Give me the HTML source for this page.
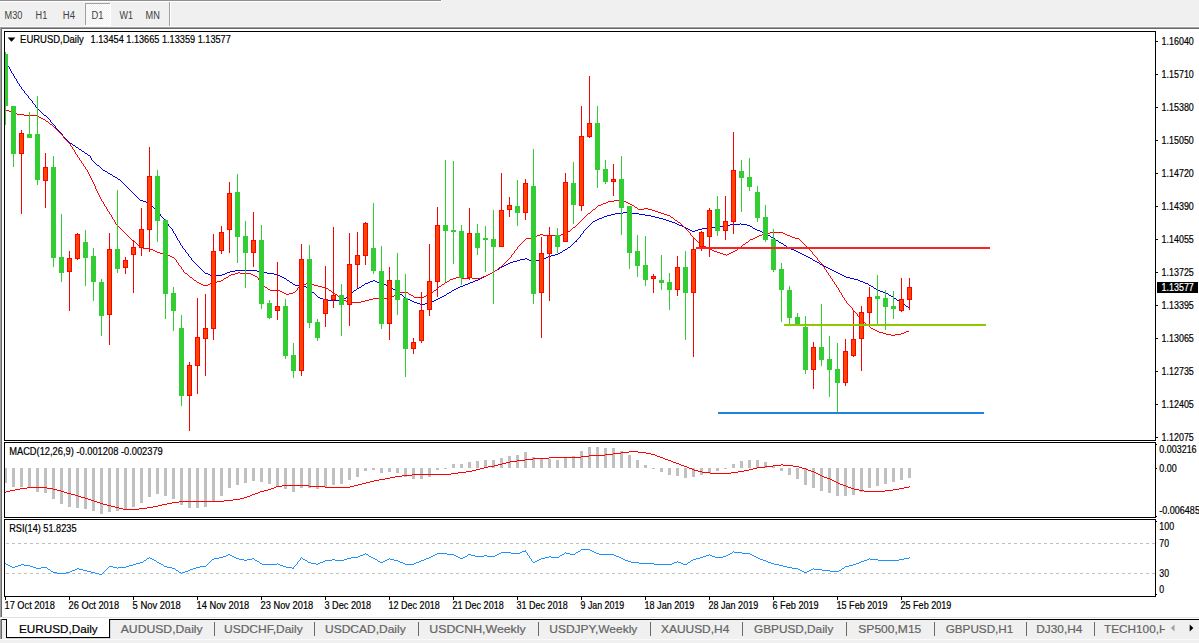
<!DOCTYPE html>
<html><head><meta charset="utf-8"><title>EURUSD,Daily</title>
<style>html,body{margin:0;padding:0;background:#f0f0f0;overflow:hidden}svg{display:block}</style></head>
<body>
<svg width="1199" height="643" viewBox="0 0 1199 643" font-family="Liberation Sans, sans-serif">
<rect x="0" y="0" width="1199" height="643" fill="#f0f0f0"/>
<rect x="0" y="0" width="441" height="1" fill="#909090"/>
<rect x="0" y="1" width="442" height="1" fill="#ffffff"/>
<rect x="441" y="0" width="1" height="1" fill="#ffffff"/>
<defs><pattern id="chk" width="2" height="2" patternUnits="userSpaceOnUse"><rect width="2" height="2" fill="#f0f0f0"/><rect width="1" height="1" fill="#fff"/><rect x="1" y="1" width="1" height="1" fill="#fff"/></pattern></defs>
<rect x="85" y="3" width="26" height="23" fill="url(#chk)"/>
<rect x="85" y="3" width="26" height="1" fill="#a0a0a0"/>
<rect x="85" y="3" width="1" height="23" fill="#a0a0a0"/>
<rect x="85" y="25" width="26" height="1" fill="#fff"/>
<rect x="110" y="3" width="1" height="23" fill="#fff"/>
<text x="4.6" y="19" font-size="10" fill="#404040" textLength="17.8" lengthAdjust="spacingAndGlyphs" >M30</text>
<text x="35.6" y="19" font-size="10" fill="#404040" textLength="11.7" lengthAdjust="spacingAndGlyphs" >H1</text>
<text x="62.8" y="19" font-size="10" fill="#404040" textLength="12.2" lengthAdjust="spacingAndGlyphs" >H4</text>
<text x="91.6" y="19" font-size="10" fill="#404040" textLength="12" lengthAdjust="spacingAndGlyphs" >D1</text>
<text x="119.4" y="19" font-size="10" fill="#404040" textLength="13.5" lengthAdjust="spacingAndGlyphs" >W1</text>
<text x="145.6" y="19" font-size="10" fill="#404040" textLength="14.3" lengthAdjust="spacingAndGlyphs" >MN</text>
<rect x="169" y="2" width="1" height="24" fill="#a0a0a0"/>
<rect x="170" y="2" width="1" height="24" fill="#fff"/>
<rect x="0" y="26" width="1199" height="1" fill="#f7f7f7"/>
<rect x="0" y="27" width="1199" height="1" fill="#a0a0a0"/>
<rect x="1" y="28" width="1198" height="1" fill="#696969"/>
<rect x="0" y="28" width="1" height="589" fill="#a0a0a0"/>
<rect x="1" y="28" width="1" height="589" fill="#696969"/>
<rect x="2" y="29" width="1197" height="588" fill="#ffffff"/>
<rect x="0" y="617" width="1199" height="1" fill="#e3e3e3"/>
<rect x="0" y="618" width="1199" height="1" fill="#ffffff"/>
<rect x="4" y="31" width="1152" height="1" fill="#000"/>
<rect x="4" y="31" width="1" height="410" fill="#000"/>
<rect x="4" y="442" width="1" height="76" fill="#000"/>
<rect x="4" y="519" width="1" height="78" fill="#000"/>
<rect x="1155" y="31" width="1" height="410" fill="#000"/>
<rect x="1155" y="442" width="1" height="76" fill="#000"/>
<rect x="1155" y="519" width="1" height="78" fill="#000"/>
<rect x="4" y="440" width="1152" height="1" fill="#000"/>
<rect x="4" y="442" width="1152" height="1" fill="#000"/>
<rect x="4" y="517" width="1152" height="1" fill="#000"/>
<rect x="4" y="519" width="1152" height="1" fill="#000"/>
<rect x="4" y="596" width="1152" height="1" fill="#000"/>
<clipPath id="cp"><rect x="5" y="32" width="1150" height="408"/></clipPath>
<g clip-path="url(#cp)" shape-rendering="crispEdges">
<path d="M5 61h1v2h-1zM6 63h1v1h-1zM7 64h1v2h-1zM8 66h1v1h-1zM9 67h1v2h-1zM10 69h1v2h-1zM11 71h1v2h-1zM12 73h1v1h-1zM13 74h1v2h-1zM14 76h1v2h-1zM15 78h1v1h-1zM16 79h1v2h-1zM17 81h1v2h-1zM18 83h1v1h-1zM19 84h1v2h-1zM20 86h1v1h-1zM21 87h1v2h-1zM22 89h1v1h-1zM23 90h1v1h-1zM24 91h1v2h-1zM25 93h1v1h-1zM26 94h1v1h-1zM27 95h1v1h-1zM28 96h1v2h-1zM29 98h1v1h-1zM30 99h1v1h-1zM31 100h1v1h-1zM32 101h1v2h-1zM33 103h1v1h-1zM34 104h1v1h-1zM35 105h1v2h-1zM36 107h1v1h-1zM37 108h1v1h-1zM38 109h1v1h-1zM39 110h1v1h-1zM40 111h1v1h-1zM41 112h1v1h-1zM42 113h1v1h-1zM43 114h1v1h-1zM44 115h2v1h-2zM46 116h1v1h-1zM47 117h1v1h-1zM48 118h1v1h-1zM49 119h1v1h-1zM50 120h1v2h-1zM51 122h1v1h-1zM52 123h1v1h-1zM53 124h1v1h-1zM54 125h1v1h-1zM55 126h1v2h-1zM56 128h1v1h-1zM57 129h1v1h-1zM58 130h1v1h-1zM59 131h1v1h-1zM60 132h1v1h-1zM61 133h1v1h-1zM62 134h1v2h-1zM63 136h1v1h-1zM64 137h1v1h-1zM65 138h1v1h-1zM66 139h1v1h-1zM67 140h1v1h-1zM68 141h1v1h-1zM69 142h1v1h-1zM70 143h2v1h-2zM72 144h1v1h-1zM73 145h2v1h-2zM75 146h1v1h-1zM76 147h2v1h-2zM78 148h1v1h-1zM79 149h2v1h-2zM81 150h1v1h-1zM82 151h2v1h-2zM84 152h1v1h-1zM85 153h2v1h-2zM87 154h1v1h-1zM88 155h2v1h-2zM90 156h1v2h-1zM91 158h1v2h-1zM92 160h1v1h-1zM93 161h1v1h-1zM94 162h1v1h-1zM95 163h1v1h-1zM96 164h1v1h-1zM97 165h2v1h-2zM99 166h1v1h-1zM100 167h1v1h-1zM101 168h1v1h-1zM102 169h1v1h-1zM103 170h2v1h-2zM105 171h2v1h-2zM107 172h1v1h-1zM108 173h2v1h-2zM110 174h2v1h-2zM112 175h1v1h-1zM113 176h2v1h-2zM115 177h2v1h-2zM117 178h1v1h-1zM118 179h2v1h-2zM120 180h1v1h-1zM121 181h1v1h-1zM122 182h1v1h-1zM123 183h1v1h-1zM124 184h1v1h-1zM125 185h1v1h-1zM126 186h1v1h-1zM127 187h1v1h-1zM128 188h1v1h-1zM129 189h1v1h-1zM130 190h1v1h-1zM131 191h1v1h-1zM132 192h1v1h-1zM133 193h1v1h-1zM134 194h1v1h-1zM135 195h1v1h-1zM136 196h1v1h-1zM137 197h1v1h-1zM138 198h1v1h-1zM139 199h1v1h-1zM140 200h3v1h-3zM143 201h3v1h-3zM146 202h3v1h-3zM149 203h1v1h-1zM150 204h1v1h-1zM151 205h1v1h-1zM152 206h1v1h-1zM153 207h1v1h-1zM154 208h1v1h-1zM155 209h1v1h-1zM156 210h1v1h-1zM157 211h1v1h-1zM158 212h1v1h-1zM159 213h1v1h-1zM160 214h1v2h-1zM161 216h1v1h-1zM162 217h1v1h-1zM163 218h1v1h-1zM164 219h1v2h-1zM165 221h1v1h-1zM166 222h1v1h-1zM167 223h1v1h-1zM168 224h1v2h-1zM169 226h1v1h-1zM170 227h1v1h-1zM171 228h1v1h-1zM172 229h1v2h-1zM173 231h1v2h-1zM174 233h1v1h-1zM175 234h1v2h-1zM176 236h1v2h-1zM177 238h1v2h-1zM178 240h1v1h-1zM179 241h1v2h-1zM180 243h1v2h-1zM181 245h1v1h-1zM182 246h1v2h-1zM183 248h1v1h-1zM184 249h1v1h-1zM185 250h1v2h-1zM186 252h1v1h-1zM187 253h1v1h-1zM188 254h1v2h-1zM189 256h1v1h-1zM190 257h1v1h-1zM191 258h1v2h-1zM192 260h1v1h-1zM193 261h1v1h-1zM194 262h1v1h-1zM195 263h1v1h-1zM196 264h1v1h-1zM197 265h1v1h-1zM198 266h1v1h-1zM199 267h1v1h-1zM200 268h1v1h-1zM201 269h1v1h-1zM202 270h1v1h-1zM203 271h1v1h-1zM204 272h1v1h-1zM205 273h3v1h-3zM208 274h2v1h-2zM210 275h12v1h-12zM222 274h3v1h-3zM225 273h2v1h-2zM227 272h3v1h-3zM230 271h5v1h-5zM235 270h22v1h-22zM257 271h5v1h-5zM262 272h5v1h-5zM267 273h7v1h-7zM274 274h4v1h-4zM278 275h2v1h-2zM280 276h2v1h-2zM282 277h2v1h-2zM284 278h2v1h-2zM286 279h1v1h-1zM287 280h2v1h-2zM289 281h1v1h-1zM290 282h2v1h-2zM292 283h1v1h-1zM293 284h2v1h-2zM295 285h9v1h-9zM304 286h2v1h-2zM306 287h1v1h-1zM307 288h1v1h-1zM308 289h2v1h-2zM310 290h1v1h-1zM311 291h1v1h-1zM312 292h2v1h-2zM314 293h1v1h-1zM315 294h1v1h-1zM316 295h1v1h-1zM317 296h1v1h-1zM318 297h2v1h-2zM320 298h3v1h-3zM323 299h2v1h-2zM325 300h17v1h-17zM342 299h2v1h-2zM344 298h2v1h-2zM346 297h2v1h-2zM348 296h1v1h-1zM349 295h1v1h-1zM350 294h1v1h-1zM351 293h1v1h-1zM352 292h1v1h-1zM353 291h1v1h-1zM354 290h2v1h-2zM356 289h1v1h-1zM357 288h2v1h-2zM359 287h2v1h-2zM361 286h1v1h-1zM362 285h2v1h-2zM364 284h1v1h-1zM365 283h3v1h-3zM368 282h2v1h-2zM370 281h3v1h-3zM373 280h2v1h-2zM375 281h2v1h-2zM377 282h3v1h-3zM380 283h3v1h-3zM383 284h3v1h-3zM386 285h3v1h-3zM389 286h1v1h-1zM390 287h2v1h-2zM392 288h1v1h-1zM393 289h2v1h-2zM395 290h1v1h-1zM396 291h2v1h-2zM398 292h1v1h-1zM399 293h1v1h-1zM400 294h2v1h-2zM402 295h1v1h-1zM403 296h1v1h-1zM404 297h2v1h-2zM406 298h2v1h-2zM408 299h2v1h-2zM410 300h2v1h-2zM412 301h2v1h-2zM414 302h3v1h-3zM417 303h3v1h-3zM420 304h5v1h-5zM425 303h4v1h-4zM429 302h3v1h-3zM432 301h2v1h-2zM434 300h2v1h-2zM436 299h2v1h-2zM438 298h2v1h-2zM440 297h2v1h-2zM442 296h2v1h-2zM444 295h2v1h-2zM446 294h1v1h-1zM447 293h2v1h-2zM449 292h2v1h-2zM451 291h1v1h-1zM452 290h2v1h-2zM454 289h2v1h-2zM456 288h2v1h-2zM458 287h2v1h-2zM460 286h3v1h-3zM463 285h2v1h-2zM465 284h3v1h-3zM468 283h2v1h-2zM470 282h3v1h-3zM473 281h2v1h-2zM475 280h3v1h-3zM478 279h2v1h-2zM480 278h2v1h-2zM482 277h2v1h-2zM484 276h2v1h-2zM486 275h2v1h-2zM488 274h2v1h-2zM490 273h2v1h-2zM492 272h2v1h-2zM494 271h1v1h-1zM495 270h2v1h-2zM497 269h2v1h-2zM499 268h1v1h-1zM500 267h2v1h-2zM502 266h2v1h-2zM504 265h2v1h-2zM506 264h2v1h-2zM508 263h2v1h-2zM510 262h3v1h-3zM513 261h4v1h-4zM517 260h3v1h-3zM520 259h5v1h-5zM525 258h2v1h-2zM527 259h2v1h-2zM529 260h2v1h-2zM531 261h5v1h-5zM536 260h4v1h-4zM540 259h3v1h-3zM543 258h3v1h-3zM546 257h2v1h-2zM548 256h3v1h-3zM551 255h4v1h-4zM555 254h3v1h-3zM558 253h2v1h-2zM560 252h2v1h-2zM562 251h1v1h-1zM563 250h2v1h-2zM565 249h2v1h-2zM567 248h1v1h-1zM568 247h2v1h-2zM570 246h1v1h-1zM571 245h1v1h-1zM572 244h1v1h-1zM573 243h1v1h-1zM574 242h1v1h-1zM575 241h1v1h-1zM576 240h1v2h-1zM577 239h1v1h-1zM578 238h1v1h-1zM579 237h1v1h-1zM580 235h1v2h-1zM581 234h1v1h-1zM582 233h1v1h-1zM583 231h1v2h-1zM584 230h1v1h-1zM585 229h1v1h-1zM586 228h1v1h-1zM587 227h1v1h-1zM588 226h1v1h-1zM589 225h1v1h-1zM590 224h1v1h-1zM591 223h1v1h-1zM592 222h1v1h-1zM593 221h2v1h-2zM595 220h2v1h-2zM597 219h2v1h-2zM599 218h3v1h-3zM602 217h2v1h-2zM604 216h3v1h-3zM607 215h4v1h-4zM611 214h4v1h-4zM615 213h8v1h-8zM623 212h8v1h-8zM631 213h8v1h-8zM639 214h6v1h-6zM645 215h6v1h-6zM651 216h4v1h-4zM655 217h4v1h-4zM659 218h4v1h-4zM663 219h3v1h-3zM666 220h3v1h-3zM669 221h3v1h-3zM672 222h3v1h-3zM675 223h2v1h-2zM677 224h2v1h-2zM679 225h3v1h-3zM682 226h2v1h-2zM684 227h2v1h-2zM686 228h2v1h-2zM688 229h2v1h-2zM690 230h2v1h-2zM692 231h3v1h-3zM695 230h3v1h-3zM698 229h4v1h-4zM702 228h6v1h-6zM708 227h11v1h-11zM719 226h6v1h-6zM725 225h5v1h-5zM730 224h10v1h-10zM740 223h1v1h-1zM741 224h6v1h-6zM747 225h3v1h-3zM750 226h2v1h-2zM752 227h1v1h-1zM753 228h2v1h-2zM755 229h2v1h-2zM757 230h3v1h-3zM760 231h2v1h-2zM762 232h3v1h-3zM765 233h2v1h-2zM767 234h1v1h-1zM768 235h2v1h-2zM770 236h1v1h-1zM771 237h2v1h-2zM773 238h2v1h-2zM775 239h1v1h-1zM776 240h2v1h-2zM778 241h1v1h-1zM779 242h2v1h-2zM781 243h2v1h-2zM783 244h1v1h-1zM784 245h2v1h-2zM786 246h1v1h-1zM787 247h2v1h-2zM789 248h2v1h-2zM791 249h3v1h-3zM794 250h2v1h-2zM796 251h2v1h-2zM798 252h2v1h-2zM800 253h2v1h-2zM802 254h2v1h-2zM804 255h2v1h-2zM806 256h2v1h-2zM808 257h2v1h-2zM810 258h2v1h-2zM812 259h1v1h-1zM813 260h2v1h-2zM815 261h2v1h-2zM817 262h2v1h-2zM819 263h1v1h-1zM820 264h2v1h-2zM822 265h2v1h-2zM824 266h2v1h-2zM826 267h2v1h-2zM828 268h2v1h-2zM830 269h2v1h-2zM832 270h2v1h-2zM834 271h2v1h-2zM836 272h2v1h-2zM838 273h2v1h-2zM840 274h2v1h-2zM842 275h2v1h-2zM844 276h2v1h-2zM846 277h4v1h-4zM850 278h4v1h-4zM854 279h4v1h-4zM858 280h2v1h-2zM860 281h3v1h-3zM863 282h2v1h-2zM865 283h3v1h-3zM868 284h1v1h-1zM869 285h2v1h-2zM871 286h2v1h-2zM873 287h1v1h-1zM874 288h2v1h-2zM876 289h2v1h-2zM878 290h2v1h-2zM880 291h3v1h-3zM883 292h2v1h-2zM885 293h3v1h-3zM888 294h1v1h-1zM889 295h2v1h-2zM891 296h2v1h-2zM893 297h1v1h-1zM894 298h2v1h-2zM896 299h1v1h-1zM897 300h2v1h-2zM899 301h1v1h-1zM900 302h2v1h-2zM902 303h1v1h-1zM903 304h2v1h-2zM905 305h1v1h-1zM906 306h2v1h-2zM908 307h1v1h-1z" fill="#0000e6" />
<path d="M5 109h1v1h-1zM6 110h3v1h-3zM9 111h2v1h-2zM11 112h3v1h-3zM14 113h3v1h-3zM17 114h7v1h-7zM24 115h13v1h-13zM37 116h2v1h-2zM39 117h2v1h-2zM41 118h2v1h-2zM43 119h2v1h-2zM45 120h1v1h-1zM46 121h2v1h-2zM48 122h1v1h-1zM49 123h1v1h-1zM50 124h2v1h-2zM52 125h1v1h-1zM53 126h1v1h-1zM54 127h1v1h-1zM55 128h1v1h-1zM56 129h1v1h-1zM57 130h1v1h-1zM58 131h1v1h-1zM59 132h1v1h-1zM60 133h1v1h-1zM61 134h1v1h-1zM62 135h1v1h-1zM63 136h1v2h-1zM64 138h1v1h-1zM65 139h1v1h-1zM66 140h1v1h-1zM67 141h1v1h-1zM68 142h1v1h-1zM69 143h1v1h-1zM70 144h1v2h-1zM71 146h1v1h-1zM72 147h1v2h-1zM73 149h1v1h-1zM74 150h1v2h-1zM75 152h1v2h-1zM76 154h1v1h-1zM77 155h1v2h-1zM78 157h1v1h-1zM79 158h1v2h-1zM80 160h1v1h-1zM81 161h1v2h-1zM82 163h1v1h-1zM83 164h1v2h-1zM84 166h1v1h-1zM85 167h1v2h-1zM86 169h1v1h-1zM87 170h1v2h-1zM88 172h1v2h-1zM89 174h1v2h-1zM90 176h1v2h-1zM91 178h1v2h-1zM92 180h1v2h-1zM93 182h1v2h-1zM94 184h1v2h-1zM95 186h1v3h-1zM96 189h1v2h-1zM97 191h1v2h-1zM98 193h1v2h-1zM99 195h1v2h-1zM100 197h1v2h-1zM101 199h1v2h-1zM102 201h1v1h-1zM103 202h1v2h-1zM104 204h1v2h-1zM105 206h1v1h-1zM106 207h1v2h-1zM107 209h1v2h-1zM108 211h1v1h-1zM109 212h1v2h-1zM110 214h1v1h-1zM111 215h1v2h-1zM112 217h1v2h-1zM113 219h1v1h-1zM114 220h1v2h-1zM115 222h1v2h-1zM116 224h1v1h-1zM117 225h1v1h-1zM118 226h1v1h-1zM119 227h1v1h-1zM120 228h1v1h-1zM121 229h1v1h-1zM122 230h1v1h-1zM123 231h1v1h-1zM124 232h1v1h-1zM125 233h1v1h-1zM126 234h1v1h-1zM127 235h1v1h-1zM128 236h1v1h-1zM129 237h1v1h-1zM130 238h1v1h-1zM131 239h1v1h-1zM132 240h2v1h-2zM134 241h1v1h-1zM135 242h1v1h-1zM136 243h1v1h-1zM137 244h1v1h-1zM138 245h1v1h-1zM139 246h1v1h-1zM140 247h3v1h-3zM143 248h7v1h-7zM150 249h3v1h-3zM153 250h2v1h-2zM155 251h2v1h-2zM157 252h3v1h-3zM160 253h6v1h-6zM166 254h2v1h-2zM168 255h2v1h-2zM170 256h2v1h-2zM172 257h2v1h-2zM174 258h1v1h-1zM175 259h1v1h-1zM176 260h1v2h-1zM177 262h1v1h-1zM178 263h1v2h-1zM179 265h1v1h-1zM180 266h1v1h-1zM181 267h1v2h-1zM182 269h1v1h-1zM183 270h1v2h-1zM184 272h1v1h-1zM185 273h2v1h-2zM187 274h1v1h-1zM188 275h1v1h-1zM189 276h1v1h-1zM190 277h2v1h-2zM192 278h1v1h-1zM193 279h1v1h-1zM194 280h2v1h-2zM196 281h1v1h-1zM197 282h2v1h-2zM199 283h2v1h-2zM201 284h2v1h-2zM203 285h5v1h-5zM208 284h2v1h-2zM210 283h3v1h-3zM213 282h4v1h-4zM217 281h4v1h-4zM221 280h2v1h-2zM223 279h1v1h-1zM224 278h2v1h-2zM226 277h2v1h-2zM228 276h1v1h-1zM229 275h2v1h-2zM231 274h4v1h-4zM235 273h3v1h-3zM238 272h2v1h-2zM240 273h11v1h-11zM251 274h2v1h-2zM253 275h2v1h-2zM255 276h2v1h-2zM257 277h1v1h-1zM258 278h1v2h-1zM259 280h1v1h-1zM260 281h1v1h-1zM261 282h1v1h-1zM262 283h1v2h-1zM263 285h1v1h-1zM264 286h1v1h-1zM265 287h2v1h-2zM267 288h1v1h-1zM268 289h2v1h-2zM270 290h10v1h-10zM280 291h2v1h-2zM282 292h2v1h-2zM284 293h2v1h-2zM286 294h3v1h-3zM289 293h4v1h-4zM293 292h2v1h-2zM295 291h1v1h-1zM296 290h1v1h-1zM297 288h1v2h-1zM298 287h1v1h-1zM299 286h2v1h-2zM301 285h2v1h-2zM303 284h3v1h-3zM306 283h3v1h-3zM309 284h5v1h-5zM314 285h4v1h-4zM318 286h4v1h-4zM322 287h3v1h-3zM325 288h3v1h-3zM328 289h1v1h-1zM329 290h2v1h-2zM331 291h1v1h-1zM332 292h2v1h-2zM334 293h1v1h-1zM335 294h2v1h-2zM337 295h1v1h-1zM338 296h1v1h-1zM339 297h1v1h-1zM340 298h2v1h-2zM342 299h2v1h-2zM344 300h2v1h-2zM346 301h2v1h-2zM348 302h13v1h-13zM361 301h4v1h-4zM365 300h4v1h-4zM369 299h4v1h-4zM373 298h16v1h-16zM389 297h3v1h-3zM392 296h2v1h-2zM394 295h2v1h-2zM396 294h2v1h-2zM398 293h2v1h-2zM400 292h8v1h-8zM408 293h1v1h-1zM409 294h2v1h-2zM411 295h2v1h-2zM413 296h1v1h-1zM414 297h10v1h-10zM424 296h2v1h-2zM426 295h2v1h-2zM428 294h2v1h-2zM430 293h2v1h-2zM432 292h1v1h-1zM433 291h1v1h-1zM434 290h2v1h-2zM436 289h1v1h-1zM437 288h1v1h-1zM438 287h1v1h-1zM439 286h2v1h-2zM441 285h1v1h-1zM442 284h2v1h-2zM444 283h1v1h-1zM445 282h2v1h-2zM447 281h2v1h-2zM449 280h1v1h-1zM450 279h3v1h-3zM453 278h3v1h-3zM456 277h5v1h-5zM461 278h8v1h-8zM469 277h3v1h-3zM472 278h9v1h-9zM481 277h2v1h-2zM483 276h3v1h-3zM486 275h2v1h-2zM488 274h2v1h-2zM490 273h2v1h-2zM492 272h1v1h-1zM493 271h2v1h-2zM495 270h2v1h-2zM497 269h1v1h-1zM498 268h1v1h-1zM499 267h2v1h-2zM501 266h1v1h-1zM502 265h1v1h-1zM503 264h1v1h-1zM504 263h1v1h-1zM505 262h1v1h-1zM506 261h1v1h-1zM507 260h1v1h-1zM508 259h1v1h-1zM509 258h1v1h-1zM510 257h1v1h-1zM511 255h1v2h-1zM512 254h1v1h-1zM513 253h1v1h-1zM514 251h1v2h-1zM515 250h1v1h-1zM516 249h1v1h-1zM517 247h1v2h-1zM518 246h1v1h-1zM519 245h1v1h-1zM520 244h1v1h-1zM521 243h1v1h-1zM522 242h1v1h-1zM523 241h1v1h-1zM524 240h1v1h-1zM525 239h1v1h-1zM526 238h5v1h-5zM531 237h4v1h-4zM535 236h2v1h-2zM537 235h3v1h-3zM540 234h3v1h-3zM543 235h18v1h-18zM561 234h2v1h-2zM563 233h3v1h-3zM566 232h2v1h-2zM568 231h2v1h-2zM570 230h1v1h-1zM571 229h1v1h-1zM572 228h1v1h-1zM573 227h2v1h-2zM575 226h1v1h-1zM576 225h1v1h-1zM577 224h1v1h-1zM578 223h1v1h-1zM579 222h1v1h-1zM580 221h1v1h-1zM581 220h1v1h-1zM582 219h1v1h-1zM583 218h1v1h-1zM584 217h1v1h-1zM585 216h1v1h-1zM586 215h1v1h-1zM587 214h1v1h-1zM588 213h2v1h-2zM590 212h1v1h-1zM591 211h1v1h-1zM592 210h1v1h-1zM593 209h2v1h-2zM595 208h1v1h-1zM596 207h1v1h-1zM597 206h1v1h-1zM598 205h3v1h-3zM601 204h2v1h-2zM603 203h3v1h-3zM606 202h2v1h-2zM608 201h6v1h-6zM614 200h6v1h-6zM620 201h6v1h-6zM626 202h2v1h-2zM628 203h2v1h-2zM630 204h2v1h-2zM632 205h2v1h-2zM634 206h1v1h-1zM635 207h2v1h-2zM637 208h1v1h-1zM638 209h6v1h-6zM644 208h4v1h-4zM648 209h4v1h-4zM652 210h3v1h-3zM655 211h3v1h-3zM658 212h3v1h-3zM661 213h3v1h-3zM664 214h3v1h-3zM667 215h3v1h-3zM670 216h1v1h-1zM671 217h2v1h-2zM673 218h1v1h-1zM674 219h1v1h-1zM675 220h2v1h-2zM677 221h1v1h-1zM678 222h2v1h-2zM680 223h1v1h-1zM681 224h1v1h-1zM682 225h1v1h-1zM683 226h1v1h-1zM684 227h1v1h-1zM685 228h1v1h-1zM686 229h1v1h-1zM687 230h1v1h-1zM688 231h1v1h-1zM689 232h1v1h-1zM690 233h1v2h-1zM691 235h1v1h-1zM692 236h1v1h-1zM693 237h1v1h-1zM694 238h1v1h-1zM695 239h1v1h-1zM696 240h1v1h-1zM697 241h1v1h-1zM698 242h1v1h-1zM699 243h2v1h-2zM701 244h2v1h-2zM703 245h1v1h-1zM704 246h2v1h-2zM706 247h2v1h-2zM708 248h2v1h-2zM710 249h2v1h-2zM712 250h2v1h-2zM714 251h3v1h-3zM717 252h3v1h-3zM720 253h3v1h-3zM723 254h3v1h-3zM726 255h1v1h-1zM727 254h2v1h-2zM729 253h2v1h-2zM731 252h2v1h-2zM733 251h2v1h-2zM735 250h2v1h-2zM737 249h1v1h-1zM738 248h1v1h-1zM739 247h2v1h-2zM741 246h1v1h-1zM742 245h1v1h-1zM743 244h2v1h-2zM745 243h1v1h-1zM746 242h2v1h-2zM748 241h1v1h-1zM749 240h1v1h-1zM750 239h3v1h-3zM753 238h2v1h-2zM755 237h2v1h-2zM757 236h2v1h-2zM759 235h3v1h-3zM762 234h4v1h-4zM766 233h4v1h-4zM770 232h13v1h-13zM783 233h2v1h-2zM785 234h2v1h-2zM787 235h3v1h-3zM790 236h2v1h-2zM792 237h3v1h-3zM795 238h4v1h-4zM799 239h1v1h-1zM800 240h1v1h-1zM801 241h1v1h-1zM802 242h1v1h-1zM803 243h1v1h-1zM804 244h1v1h-1zM805 245h1v1h-1zM806 246h1v1h-1zM807 247h1v1h-1zM808 248h1v1h-1zM809 249h1v1h-1zM810 250h1v1h-1zM811 251h1v1h-1zM812 252h1v2h-1zM813 254h1v1h-1zM814 255h1v1h-1zM815 256h1v1h-1zM816 257h1v1h-1zM817 258h1v2h-1zM818 260h1v1h-1zM819 261h1v1h-1zM820 262h1v1h-1zM821 263h1v1h-1zM822 264h1v2h-1zM823 266h1v1h-1zM824 267h1v2h-1zM825 269h1v1h-1zM826 270h1v2h-1zM827 272h1v1h-1zM828 273h1v2h-1zM829 275h1v1h-1zM830 276h1v2h-1zM831 278h1v1h-1zM832 279h1v2h-1zM833 281h1v1h-1zM834 282h1v2h-1zM835 284h1v1h-1zM836 285h1v2h-1zM837 287h1v1h-1zM838 288h1v2h-1zM839 290h1v2h-1zM840 292h1v1h-1zM841 293h1v2h-1zM842 295h1v2h-1zM843 297h1v1h-1zM844 298h1v2h-1zM845 300h1v1h-1zM846 301h1v2h-1zM847 303h1v1h-1zM848 304h1v1h-1zM849 305h1v1h-1zM850 306h1v1h-1zM851 307h1v1h-1zM852 308h1v2h-1zM853 310h1v1h-1zM854 311h1v1h-1zM855 312h1v1h-1zM856 313h1v1h-1zM857 314h1v2h-1zM858 316h1v1h-1zM859 317h1v1h-1zM860 318h1v1h-1zM861 319h1v2h-1zM862 321h1v1h-1zM863 322h2v1h-2zM865 323h1v1h-1zM866 324h1v1h-1zM867 325h2v1h-2zM869 326h1v1h-1zM870 327h1v1h-1zM871 328h2v1h-2zM873 329h2v1h-2zM875 330h2v1h-2zM877 331h2v1h-2zM879 332h4v1h-4zM883 333h3v1h-3zM886 334h5v1h-5zM891 335h4v1h-4zM895 334h6v1h-6zM901 333h3v1h-3zM904 332h2v1h-2zM906 331h3v1h-3z" fill="#ff0000" />
<rect x="5" y="52" width="1" height="73" fill="#32cd32"/>
<rect x="3" y="54" width="5" height="52" fill="#32cd32"/>
<rect x="13" y="106" width="1" height="61" fill="#32cd32"/>
<rect x="11" y="106" width="5" height="48" fill="#32cd32"/>
<rect x="21" y="130" width="1" height="84" fill="#ff0000"/>
<rect x="19" y="133" width="5" height="21" fill="#ff0000"/>
<rect x="20" y="134" width="3" height="19" fill="#ff4500"/>
<rect x="29" y="112" width="1" height="26" fill="#32cd32"/>
<rect x="27" y="134" width="5" height="4" fill="#32cd32"/>
<rect x="37" y="96" width="1" height="89" fill="#32cd32"/>
<rect x="35" y="134" width="5" height="46" fill="#32cd32"/>
<rect x="45" y="153" width="1" height="55" fill="#ff0000"/>
<rect x="43" y="167" width="5" height="14" fill="#ff0000"/>
<rect x="44" y="168" width="3" height="12" fill="#ff4500"/>
<rect x="53" y="156" width="1" height="111" fill="#32cd32"/>
<rect x="51" y="167" width="5" height="91" fill="#32cd32"/>
<rect x="61" y="214" width="1" height="68" fill="#32cd32"/>
<rect x="59" y="257" width="5" height="16" fill="#32cd32"/>
<rect x="69" y="251" width="1" height="60" fill="#ff0000"/>
<rect x="67" y="258" width="5" height="14" fill="#ff0000"/>
<rect x="68" y="259" width="3" height="12" fill="#ff4500"/>
<rect x="77" y="233" width="1" height="27" fill="#ff0000"/>
<rect x="75" y="234" width="5" height="25" fill="#ff0000"/>
<rect x="76" y="235" width="3" height="23" fill="#ff4500"/>
<rect x="85" y="230" width="1" height="56" fill="#32cd32"/>
<rect x="83" y="242" width="5" height="16" fill="#32cd32"/>
<rect x="93" y="248" width="1" height="53" fill="#32cd32"/>
<rect x="91" y="256" width="5" height="26" fill="#32cd32"/>
<rect x="101" y="279" width="1" height="57" fill="#32cd32"/>
<rect x="99" y="282" width="5" height="34" fill="#32cd32"/>
<rect x="109" y="233" width="1" height="112" fill="#ff0000"/>
<rect x="107" y="249" width="5" height="66" fill="#ff0000"/>
<rect x="108" y="250" width="3" height="64" fill="#ff4500"/>
<rect x="117" y="190" width="1" height="83" fill="#32cd32"/>
<rect x="115" y="249" width="5" height="20" fill="#32cd32"/>
<rect x="125" y="257" width="1" height="17" fill="#ff0000"/>
<rect x="123" y="260" width="5" height="8" fill="#ff0000"/>
<rect x="124" y="261" width="3" height="6" fill="#ff4500"/>
<rect x="133" y="240" width="1" height="53" fill="#ff0000"/>
<rect x="131" y="247" width="5" height="8" fill="#ff0000"/>
<rect x="132" y="248" width="3" height="6" fill="#ff4500"/>
<rect x="141" y="208" width="1" height="48" fill="#ff0000"/>
<rect x="139" y="229" width="5" height="19" fill="#ff0000"/>
<rect x="140" y="230" width="3" height="17" fill="#ff4500"/>
<rect x="149" y="147" width="1" height="105" fill="#ff0000"/>
<rect x="147" y="176" width="5" height="54" fill="#ff0000"/>
<rect x="148" y="177" width="3" height="52" fill="#ff4500"/>
<rect x="157" y="170" width="1" height="72" fill="#32cd32"/>
<rect x="155" y="176" width="5" height="45" fill="#32cd32"/>
<rect x="165" y="219" width="1" height="100" fill="#32cd32"/>
<rect x="163" y="220" width="5" height="74" fill="#32cd32"/>
<rect x="173" y="287" width="1" height="44" fill="#32cd32"/>
<rect x="171" y="293" width="5" height="18" fill="#32cd32"/>
<rect x="181" y="315" width="1" height="91" fill="#32cd32"/>
<rect x="179" y="328" width="5" height="68" fill="#32cd32"/>
<rect x="189" y="362" width="1" height="69" fill="#ff0000"/>
<rect x="187" y="365" width="5" height="31" fill="#ff0000"/>
<rect x="188" y="366" width="3" height="29" fill="#ff4500"/>
<rect x="197" y="298" width="1" height="96" fill="#ff0000"/>
<rect x="195" y="337" width="5" height="29" fill="#ff0000"/>
<rect x="196" y="338" width="3" height="27" fill="#ff4500"/>
<rect x="205" y="294" width="1" height="82" fill="#ff0000"/>
<rect x="203" y="328" width="5" height="11" fill="#ff0000"/>
<rect x="204" y="329" width="3" height="9" fill="#ff4500"/>
<rect x="213" y="234" width="1" height="106" fill="#ff0000"/>
<rect x="211" y="251" width="5" height="78" fill="#ff0000"/>
<rect x="212" y="252" width="3" height="76" fill="#ff4500"/>
<rect x="221" y="226" width="1" height="28" fill="#ff0000"/>
<rect x="219" y="232" width="5" height="19" fill="#ff0000"/>
<rect x="220" y="233" width="3" height="17" fill="#ff4500"/>
<rect x="229" y="182" width="1" height="71" fill="#ff0000"/>
<rect x="227" y="193" width="5" height="37" fill="#ff0000"/>
<rect x="228" y="194" width="3" height="35" fill="#ff4500"/>
<rect x="237" y="174" width="1" height="89" fill="#32cd32"/>
<rect x="235" y="192" width="5" height="45" fill="#32cd32"/>
<rect x="245" y="221" width="1" height="67" fill="#32cd32"/>
<rect x="243" y="236" width="5" height="17" fill="#32cd32"/>
<rect x="253" y="212" width="1" height="55" fill="#ff0000"/>
<rect x="251" y="240" width="5" height="13" fill="#ff0000"/>
<rect x="252" y="241" width="3" height="11" fill="#ff4500"/>
<rect x="261" y="225" width="1" height="84" fill="#32cd32"/>
<rect x="259" y="240" width="5" height="64" fill="#32cd32"/>
<rect x="269" y="300" width="1" height="19" fill="#32cd32"/>
<rect x="267" y="303" width="5" height="15" fill="#32cd32"/>
<rect x="277" y="262" width="1" height="58" fill="#ff0000"/>
<rect x="275" y="306" width="5" height="5" fill="#ff0000"/>
<rect x="276" y="307" width="3" height="3" fill="#ff4500"/>
<rect x="285" y="299" width="1" height="60" fill="#32cd32"/>
<rect x="283" y="306" width="5" height="50" fill="#32cd32"/>
<rect x="293" y="343" width="1" height="35" fill="#32cd32"/>
<rect x="291" y="355" width="5" height="16" fill="#32cd32"/>
<rect x="301" y="244" width="1" height="132" fill="#ff0000"/>
<rect x="299" y="259" width="5" height="112" fill="#ff0000"/>
<rect x="300" y="260" width="3" height="110" fill="#ff4500"/>
<rect x="309" y="245" width="1" height="83" fill="#32cd32"/>
<rect x="307" y="259" width="5" height="64" fill="#32cd32"/>
<rect x="317" y="319" width="1" height="22" fill="#32cd32"/>
<rect x="315" y="322" width="5" height="16" fill="#32cd32"/>
<rect x="325" y="266" width="1" height="61" fill="#ff0000"/>
<rect x="323" y="299" width="5" height="15" fill="#ff0000"/>
<rect x="324" y="300" width="3" height="13" fill="#ff4500"/>
<rect x="333" y="227" width="1" height="81" fill="#ff0000"/>
<rect x="331" y="295" width="5" height="5" fill="#ff0000"/>
<rect x="332" y="296" width="3" height="3" fill="#ff4500"/>
<rect x="341" y="284" width="1" height="52" fill="#32cd32"/>
<rect x="339" y="295" width="5" height="10" fill="#32cd32"/>
<rect x="349" y="233" width="1" height="93" fill="#ff0000"/>
<rect x="347" y="264" width="5" height="41" fill="#ff0000"/>
<rect x="348" y="265" width="3" height="39" fill="#ff4500"/>
<rect x="357" y="232" width="1" height="56" fill="#ff0000"/>
<rect x="355" y="255" width="5" height="10" fill="#ff0000"/>
<rect x="356" y="256" width="3" height="8" fill="#ff4500"/>
<rect x="365" y="222" width="1" height="43" fill="#ff0000"/>
<rect x="363" y="223" width="5" height="33" fill="#ff0000"/>
<rect x="364" y="224" width="3" height="31" fill="#ff4500"/>
<rect x="373" y="203" width="1" height="71" fill="#32cd32"/>
<rect x="371" y="248" width="5" height="23" fill="#32cd32"/>
<rect x="381" y="246" width="1" height="83" fill="#32cd32"/>
<rect x="379" y="271" width="5" height="53" fill="#32cd32"/>
<rect x="389" y="267" width="1" height="73" fill="#ff0000"/>
<rect x="387" y="280" width="5" height="44" fill="#ff0000"/>
<rect x="388" y="281" width="3" height="42" fill="#ff4500"/>
<rect x="397" y="253" width="1" height="62" fill="#32cd32"/>
<rect x="395" y="280" width="5" height="20" fill="#32cd32"/>
<rect x="405" y="274" width="1" height="103" fill="#32cd32"/>
<rect x="403" y="298" width="5" height="51" fill="#32cd32"/>
<rect x="413" y="338" width="1" height="16" fill="#ff0000"/>
<rect x="411" y="342" width="5" height="7" fill="#ff0000"/>
<rect x="412" y="343" width="3" height="5" fill="#ff4500"/>
<rect x="421" y="292" width="1" height="51" fill="#ff0000"/>
<rect x="419" y="310" width="5" height="31" fill="#ff0000"/>
<rect x="420" y="311" width="3" height="29" fill="#ff4500"/>
<rect x="429" y="244" width="1" height="72" fill="#ff0000"/>
<rect x="427" y="281" width="5" height="29" fill="#ff0000"/>
<rect x="428" y="282" width="3" height="27" fill="#ff4500"/>
<rect x="437" y="207" width="1" height="90" fill="#ff0000"/>
<rect x="435" y="225" width="5" height="57" fill="#ff0000"/>
<rect x="436" y="226" width="3" height="55" fill="#ff4500"/>
<rect x="445" y="160" width="1" height="122" fill="#32cd32"/>
<rect x="443" y="225" width="5" height="6" fill="#32cd32"/>
<rect x="453" y="161" width="1" height="103" fill="#32cd32"/>
<rect x="451" y="230" width="5" height="2" fill="#32cd32"/>
<rect x="461" y="225" width="1" height="60" fill="#32cd32"/>
<rect x="459" y="231" width="5" height="47" fill="#32cd32"/>
<rect x="469" y="208" width="1" height="72" fill="#ff0000"/>
<rect x="467" y="233" width="5" height="45" fill="#ff0000"/>
<rect x="468" y="234" width="3" height="43" fill="#ff4500"/>
<rect x="477" y="224" width="1" height="31" fill="#32cd32"/>
<rect x="475" y="233" width="5" height="15" fill="#32cd32"/>
<rect x="485" y="226" width="1" height="46" fill="#32cd32"/>
<rect x="483" y="238" width="5" height="2" fill="#32cd32"/>
<rect x="493" y="210" width="1" height="94" fill="#32cd32"/>
<rect x="491" y="239" width="5" height="8" fill="#32cd32"/>
<rect x="501" y="173" width="1" height="74" fill="#ff0000"/>
<rect x="499" y="210" width="5" height="37" fill="#ff0000"/>
<rect x="500" y="211" width="3" height="35" fill="#ff4500"/>
<rect x="509" y="197" width="1" height="20" fill="#ff0000"/>
<rect x="507" y="205" width="5" height="5" fill="#ff0000"/>
<rect x="508" y="206" width="3" height="3" fill="#ff4500"/>
<rect x="517" y="180" width="1" height="46" fill="#32cd32"/>
<rect x="515" y="206" width="5" height="7" fill="#32cd32"/>
<rect x="525" y="179" width="1" height="41" fill="#ff0000"/>
<rect x="523" y="183" width="5" height="30" fill="#ff0000"/>
<rect x="524" y="184" width="3" height="28" fill="#ff4500"/>
<rect x="533" y="149" width="1" height="155" fill="#32cd32"/>
<rect x="531" y="186" width="5" height="108" fill="#32cd32"/>
<rect x="541" y="237" width="1" height="101" fill="#ff0000"/>
<rect x="539" y="253" width="5" height="40" fill="#ff0000"/>
<rect x="540" y="254" width="3" height="38" fill="#ff4500"/>
<rect x="549" y="227" width="1" height="74" fill="#ff0000"/>
<rect x="547" y="235" width="5" height="19" fill="#ff0000"/>
<rect x="548" y="236" width="3" height="17" fill="#ff4500"/>
<rect x="557" y="228" width="1" height="25" fill="#32cd32"/>
<rect x="555" y="235" width="5" height="12" fill="#32cd32"/>
<rect x="565" y="173" width="1" height="69" fill="#ff0000"/>
<rect x="563" y="182" width="5" height="60" fill="#ff0000"/>
<rect x="564" y="183" width="3" height="58" fill="#ff4500"/>
<rect x="573" y="162" width="1" height="62" fill="#32cd32"/>
<rect x="571" y="183" width="5" height="22" fill="#32cd32"/>
<rect x="581" y="106" width="1" height="105" fill="#ff0000"/>
<rect x="579" y="136" width="5" height="70" fill="#ff0000"/>
<rect x="580" y="137" width="3" height="68" fill="#ff4500"/>
<rect x="589" y="76" width="1" height="62" fill="#ff0000"/>
<rect x="587" y="123" width="5" height="14" fill="#ff0000"/>
<rect x="588" y="124" width="3" height="12" fill="#ff4500"/>
<rect x="597" y="106" width="1" height="82" fill="#32cd32"/>
<rect x="595" y="123" width="5" height="47" fill="#32cd32"/>
<rect x="605" y="160" width="1" height="24" fill="#32cd32"/>
<rect x="603" y="169" width="5" height="13" fill="#32cd32"/>
<rect x="613" y="164" width="1" height="32" fill="#ff0000"/>
<rect x="611" y="179" width="5" height="3" fill="#ff0000"/>
<rect x="612" y="180" width="3" height="1" fill="#ff4500"/>
<rect x="621" y="156" width="1" height="79" fill="#32cd32"/>
<rect x="619" y="179" width="5" height="29" fill="#32cd32"/>
<rect x="629" y="206" width="1" height="63" fill="#32cd32"/>
<rect x="627" y="206" width="5" height="47" fill="#32cd32"/>
<rect x="637" y="235" width="1" height="42" fill="#32cd32"/>
<rect x="635" y="251" width="5" height="15" fill="#32cd32"/>
<rect x="645" y="236" width="1" height="50" fill="#32cd32"/>
<rect x="643" y="265" width="5" height="15" fill="#32cd32"/>
<rect x="653" y="274" width="1" height="19" fill="#ff0000"/>
<rect x="651" y="276" width="5" height="3" fill="#ff0000"/>
<rect x="652" y="277" width="3" height="1" fill="#ff4500"/>
<rect x="661" y="255" width="1" height="35" fill="#32cd32"/>
<rect x="659" y="280" width="5" height="3" fill="#32cd32"/>
<rect x="669" y="273" width="1" height="37" fill="#32cd32"/>
<rect x="667" y="282" width="5" height="8" fill="#32cd32"/>
<rect x="677" y="256" width="1" height="40" fill="#ff0000"/>
<rect x="675" y="267" width="5" height="23" fill="#ff0000"/>
<rect x="676" y="268" width="3" height="21" fill="#ff4500"/>
<rect x="685" y="251" width="1" height="89" fill="#32cd32"/>
<rect x="683" y="267" width="5" height="26" fill="#32cd32"/>
<rect x="693" y="238" width="1" height="119" fill="#ff0000"/>
<rect x="691" y="249" width="5" height="44" fill="#ff0000"/>
<rect x="692" y="250" width="3" height="42" fill="#ff4500"/>
<rect x="701" y="231" width="1" height="20" fill="#ff0000"/>
<rect x="699" y="232" width="5" height="15" fill="#ff0000"/>
<rect x="700" y="233" width="3" height="13" fill="#ff4500"/>
<rect x="709" y="208" width="1" height="49" fill="#ff0000"/>
<rect x="707" y="210" width="5" height="27" fill="#ff0000"/>
<rect x="708" y="211" width="3" height="25" fill="#ff4500"/>
<rect x="717" y="196" width="1" height="40" fill="#32cd32"/>
<rect x="715" y="209" width="5" height="22" fill="#32cd32"/>
<rect x="725" y="196" width="1" height="44" fill="#ff0000"/>
<rect x="723" y="221" width="5" height="10" fill="#ff0000"/>
<rect x="724" y="222" width="3" height="8" fill="#ff4500"/>
<rect x="733" y="132" width="1" height="102" fill="#ff0000"/>
<rect x="731" y="170" width="5" height="52" fill="#ff0000"/>
<rect x="732" y="171" width="3" height="50" fill="#ff4500"/>
<rect x="741" y="160" width="1" height="52" fill="#32cd32"/>
<rect x="739" y="171" width="5" height="7" fill="#32cd32"/>
<rect x="749" y="158" width="1" height="33" fill="#32cd32"/>
<rect x="747" y="177" width="5" height="10" fill="#32cd32"/>
<rect x="757" y="186" width="1" height="36" fill="#32cd32"/>
<rect x="755" y="192" width="5" height="26" fill="#32cd32"/>
<rect x="765" y="205" width="1" height="37" fill="#32cd32"/>
<rect x="763" y="217" width="5" height="23" fill="#32cd32"/>
<rect x="773" y="229" width="1" height="43" fill="#32cd32"/>
<rect x="771" y="239" width="5" height="31" fill="#32cd32"/>
<rect x="781" y="263" width="1" height="59" fill="#32cd32"/>
<rect x="779" y="269" width="5" height="21" fill="#32cd32"/>
<rect x="789" y="286" width="1" height="38" fill="#32cd32"/>
<rect x="787" y="290" width="5" height="28" fill="#32cd32"/>
<rect x="797" y="313" width="1" height="11" fill="#32cd32"/>
<rect x="795" y="317" width="5" height="7" fill="#32cd32"/>
<rect x="805" y="316" width="1" height="58" fill="#32cd32"/>
<rect x="803" y="327" width="5" height="43" fill="#32cd32"/>
<rect x="813" y="342" width="1" height="47" fill="#ff0000"/>
<rect x="811" y="347" width="5" height="23" fill="#ff0000"/>
<rect x="812" y="348" width="3" height="21" fill="#ff4500"/>
<rect x="821" y="304" width="1" height="62" fill="#32cd32"/>
<rect x="819" y="347" width="5" height="13" fill="#32cd32"/>
<rect x="829" y="336" width="1" height="61" fill="#32cd32"/>
<rect x="827" y="359" width="5" height="11" fill="#32cd32"/>
<rect x="837" y="343" width="1" height="69" fill="#32cd32"/>
<rect x="835" y="369" width="5" height="14" fill="#32cd32"/>
<rect x="845" y="339" width="1" height="47" fill="#ff0000"/>
<rect x="843" y="351" width="5" height="32" fill="#ff0000"/>
<rect x="844" y="352" width="3" height="30" fill="#ff4500"/>
<rect x="853" y="311" width="1" height="46" fill="#ff0000"/>
<rect x="851" y="339" width="5" height="17" fill="#ff0000"/>
<rect x="852" y="340" width="3" height="15" fill="#ff4500"/>
<rect x="861" y="306" width="1" height="65" fill="#ff0000"/>
<rect x="859" y="312" width="5" height="27" fill="#ff0000"/>
<rect x="860" y="313" width="3" height="25" fill="#ff4500"/>
<rect x="869" y="287" width="1" height="37" fill="#ff0000"/>
<rect x="867" y="297" width="5" height="16" fill="#ff0000"/>
<rect x="868" y="298" width="3" height="14" fill="#ff4500"/>
<rect x="877" y="275" width="1" height="49" fill="#32cd32"/>
<rect x="875" y="296" width="5" height="3" fill="#32cd32"/>
<rect x="885" y="290" width="1" height="40" fill="#32cd32"/>
<rect x="883" y="298" width="5" height="9" fill="#32cd32"/>
<rect x="893" y="291" width="1" height="28" fill="#32cd32"/>
<rect x="891" y="306" width="5" height="3" fill="#32cd32"/>
<rect x="901" y="278" width="1" height="34" fill="#ff0000"/>
<rect x="899" y="299" width="5" height="12" fill="#ff0000"/>
<rect x="900" y="300" width="3" height="10" fill="#ff4500"/>
<rect x="909" y="278" width="1" height="32" fill="#ff0000"/>
<rect x="907" y="287" width="5" height="13" fill="#ff0000"/>
<rect x="908" y="288" width="3" height="11" fill="#ff4500"/>
</g>
<rect x="696" y="247" width="294" height="2" fill="#fa2222"/>
<rect x="784" y="324" width="202" height="2" fill="#8dc800"/>
<rect x="718" y="412" width="266" height="2" fill="#1e82e0"/>
<path d="M7.6 37.6h7.8l-3.9 4.2z" fill="#000"/>
<text x="20.1" y="43" font-size="10.2" fill="#000" stroke="#000" stroke-width="0.2" textLength="63.7" lengthAdjust="spacingAndGlyphs" >EURUSD,Daily</text>
<text x="90.6" y="43" font-size="10.2" fill="#000" stroke="#000" stroke-width="0.2" textLength="140.2" lengthAdjust="spacingAndGlyphs" >1.13454 1.13665 1.13359 1.13577</text>
<rect x="1156" y="41" width="2" height="1" fill="#000"/>
<text x="1161.6" y="45" font-size="10.2" fill="#000" stroke="#000" stroke-width="0.2" textLength="32.2" lengthAdjust="spacingAndGlyphs" >1.16040</text>
<rect x="1156" y="74" width="2" height="1" fill="#000"/>
<text x="1161.6" y="78" font-size="10.2" fill="#000" stroke="#000" stroke-width="0.2" textLength="32.2" lengthAdjust="spacingAndGlyphs" >1.15710</text>
<rect x="1156" y="107" width="2" height="1" fill="#000"/>
<text x="1161.6" y="111" font-size="10.2" fill="#000" stroke="#000" stroke-width="0.2" textLength="32.2" lengthAdjust="spacingAndGlyphs" >1.15380</text>
<rect x="1156" y="140" width="2" height="1" fill="#000"/>
<text x="1161.6" y="144" font-size="10.2" fill="#000" stroke="#000" stroke-width="0.2" textLength="32.2" lengthAdjust="spacingAndGlyphs" >1.15050</text>
<rect x="1156" y="173" width="2" height="1" fill="#000"/>
<text x="1161.6" y="177" font-size="10.2" fill="#000" stroke="#000" stroke-width="0.2" textLength="32.2" lengthAdjust="spacingAndGlyphs" >1.14720</text>
<rect x="1156" y="206" width="2" height="1" fill="#000"/>
<text x="1161.6" y="210" font-size="10.2" fill="#000" stroke="#000" stroke-width="0.2" textLength="32.2" lengthAdjust="spacingAndGlyphs" >1.14390</text>
<rect x="1156" y="239" width="2" height="1" fill="#000"/>
<text x="1161.6" y="243" font-size="10.2" fill="#000" stroke="#000" stroke-width="0.2" textLength="32.2" lengthAdjust="spacingAndGlyphs" >1.14055</text>
<rect x="1156" y="272" width="2" height="1" fill="#000"/>
<text x="1161.6" y="276" font-size="10.2" fill="#000" stroke="#000" stroke-width="0.2" textLength="32.2" lengthAdjust="spacingAndGlyphs" >1.13725</text>
<rect x="1156" y="305" width="2" height="1" fill="#000"/>
<text x="1161.6" y="309" font-size="10.2" fill="#000" stroke="#000" stroke-width="0.2" textLength="32.2" lengthAdjust="spacingAndGlyphs" >1.13395</text>
<rect x="1156" y="338" width="2" height="1" fill="#000"/>
<text x="1161.6" y="342" font-size="10.2" fill="#000" stroke="#000" stroke-width="0.2" textLength="32.2" lengthAdjust="spacingAndGlyphs" >1.13065</text>
<rect x="1156" y="371" width="2" height="1" fill="#000"/>
<text x="1161.6" y="375" font-size="10.2" fill="#000" stroke="#000" stroke-width="0.2" textLength="32.2" lengthAdjust="spacingAndGlyphs" >1.12735</text>
<rect x="1156" y="404" width="2" height="1" fill="#000"/>
<text x="1161.6" y="408" font-size="10.2" fill="#000" stroke="#000" stroke-width="0.2" textLength="32.2" lengthAdjust="spacingAndGlyphs" >1.12405</text>
<rect x="1156" y="437" width="2" height="1" fill="#000"/>
<text x="1161.6" y="441" font-size="10.2" fill="#000" stroke="#000" stroke-width="0.2" textLength="32.2" lengthAdjust="spacingAndGlyphs" >1.12075</text>
<rect x="1157" y="282" width="41" height="11" fill="#000"/>
<text x="1161.6" y="291" font-size="10.2" fill="#fff" stroke="#fff" stroke-width="0.2" textLength="32.2" lengthAdjust="spacingAndGlyphs" >1.13577</text>
<clipPath id="cm"><rect x="5" y="443" width="1150" height="74"/></clipPath><clipPath id="cr"><rect x="5" y="520" width="1150" height="76"/></clipPath>
<g shape-rendering="crispEdges" clip-path="url(#cm)">
<rect x="4" y="468" width="3" height="15" fill="#c0c0c0"/>
<rect x="12" y="468" width="3" height="19" fill="#c0c0c0"/>
<rect x="20" y="468" width="3" height="19" fill="#c0c0c0"/>
<rect x="28" y="468" width="3" height="20" fill="#c0c0c0"/>
<rect x="36" y="468" width="3" height="24" fill="#c0c0c0"/>
<rect x="44" y="468" width="3" height="25" fill="#c0c0c0"/>
<rect x="52" y="468" width="3" height="31" fill="#c0c0c0"/>
<rect x="60" y="468" width="3" height="36" fill="#c0c0c0"/>
<rect x="68" y="468" width="3" height="39" fill="#c0c0c0"/>
<rect x="76" y="468" width="3" height="40" fill="#c0c0c0"/>
<rect x="84" y="468" width="3" height="41" fill="#c0c0c0"/>
<rect x="92" y="468" width="3" height="43" fill="#c0c0c0"/>
<rect x="100" y="468" width="3" height="46" fill="#c0c0c0"/>
<rect x="108" y="468" width="3" height="44" fill="#c0c0c0"/>
<rect x="116" y="468" width="3" height="43" fill="#c0c0c0"/>
<rect x="124" y="468" width="3" height="41" fill="#c0c0c0"/>
<rect x="132" y="468" width="3" height="39" fill="#c0c0c0"/>
<rect x="140" y="468" width="3" height="35" fill="#c0c0c0"/>
<rect x="148" y="468" width="3" height="29" fill="#c0c0c0"/>
<rect x="156" y="468" width="3" height="26" fill="#c0c0c0"/>
<rect x="164" y="468" width="3" height="28" fill="#c0c0c0"/>
<rect x="172" y="468" width="3" height="31" fill="#c0c0c0"/>
<rect x="180" y="468" width="3" height="37" fill="#c0c0c0"/>
<rect x="188" y="468" width="3" height="40" fill="#c0c0c0"/>
<rect x="196" y="468" width="3" height="40" fill="#c0c0c0"/>
<rect x="204" y="468" width="3" height="39" fill="#c0c0c0"/>
<rect x="212" y="468" width="3" height="33" fill="#c0c0c0"/>
<rect x="220" y="468" width="3" height="28" fill="#c0c0c0"/>
<rect x="228" y="468" width="3" height="20" fill="#c0c0c0"/>
<rect x="236" y="468" width="3" height="17" fill="#c0c0c0"/>
<rect x="244" y="468" width="3" height="15" fill="#c0c0c0"/>
<rect x="252" y="468" width="3" height="13" fill="#c0c0c0"/>
<rect x="260" y="468" width="3" height="14" fill="#c0c0c0"/>
<rect x="268" y="468" width="3" height="16" fill="#c0c0c0"/>
<rect x="276" y="468" width="3" height="18" fill="#c0c0c0"/>
<rect x="284" y="468" width="3" height="21" fill="#c0c0c0"/>
<rect x="292" y="468" width="3" height="24" fill="#c0c0c0"/>
<rect x="300" y="468" width="3" height="20" fill="#c0c0c0"/>
<rect x="308" y="468" width="3" height="20" fill="#c0c0c0"/>
<rect x="316" y="468" width="3" height="21" fill="#c0c0c0"/>
<rect x="324" y="468" width="3" height="19" fill="#c0c0c0"/>
<rect x="332" y="468" width="3" height="17" fill="#c0c0c0"/>
<rect x="340" y="468" width="3" height="16" fill="#c0c0c0"/>
<rect x="348" y="468" width="3" height="12" fill="#c0c0c0"/>
<rect x="356" y="468" width="3" height="9" fill="#c0c0c0"/>
<rect x="364" y="468" width="3" height="3" fill="#c0c0c0"/>
<rect x="372" y="468" width="3" height="2" fill="#c0c0c0"/>
<rect x="380" y="468" width="3" height="5" fill="#c0c0c0"/>
<rect x="388" y="468" width="3" height="4" fill="#c0c0c0"/>
<rect x="396" y="468" width="3" height="5" fill="#c0c0c0"/>
<rect x="404" y="468" width="3" height="9" fill="#c0c0c0"/>
<rect x="412" y="468" width="3" height="11" fill="#c0c0c0"/>
<rect x="420" y="468" width="3" height="11" fill="#c0c0c0"/>
<rect x="428" y="468" width="3" height="9" fill="#c0c0c0"/>
<rect x="436" y="468" width="3" height="2" fill="#c0c0c0"/>
<rect x="444" y="468" width="3" height="1" fill="#c0c0c0"/>
<rect x="452" y="464" width="3" height="4" fill="#c0c0c0"/>
<rect x="460" y="464" width="3" height="4" fill="#c0c0c0"/>
<rect x="468" y="462" width="3" height="6" fill="#c0c0c0"/>
<rect x="476" y="461" width="3" height="7" fill="#c0c0c0"/>
<rect x="484" y="460" width="3" height="8" fill="#c0c0c0"/>
<rect x="492" y="460" width="3" height="8" fill="#c0c0c0"/>
<rect x="500" y="458" width="3" height="10" fill="#c0c0c0"/>
<rect x="508" y="456" width="3" height="12" fill="#c0c0c0"/>
<rect x="516" y="455" width="3" height="13" fill="#c0c0c0"/>
<rect x="524" y="452" width="3" height="16" fill="#c0c0c0"/>
<rect x="532" y="457" width="3" height="11" fill="#c0c0c0"/>
<rect x="540" y="458" width="3" height="10" fill="#c0c0c0"/>
<rect x="548" y="459" width="3" height="9" fill="#c0c0c0"/>
<rect x="556" y="460" width="3" height="8" fill="#c0c0c0"/>
<rect x="564" y="458" width="3" height="10" fill="#c0c0c0"/>
<rect x="572" y="456" width="3" height="12" fill="#c0c0c0"/>
<rect x="580" y="451" width="3" height="17" fill="#c0c0c0"/>
<rect x="588" y="447" width="3" height="21" fill="#c0c0c0"/>
<rect x="596" y="447" width="3" height="21" fill="#c0c0c0"/>
<rect x="604" y="448" width="3" height="20" fill="#c0c0c0"/>
<rect x="612" y="448" width="3" height="20" fill="#c0c0c0"/>
<rect x="620" y="451" width="3" height="17" fill="#c0c0c0"/>
<rect x="628" y="455" width="3" height="13" fill="#c0c0c0"/>
<rect x="636" y="460" width="3" height="8" fill="#c0c0c0"/>
<rect x="644" y="465" width="3" height="3" fill="#c0c0c0"/>
<rect x="652" y="468" width="3" height="1" fill="#c0c0c0"/>
<rect x="660" y="468" width="3" height="4" fill="#c0c0c0"/>
<rect x="668" y="468" width="3" height="7" fill="#c0c0c0"/>
<rect x="676" y="468" width="3" height="8" fill="#c0c0c0"/>
<rect x="684" y="468" width="3" height="10" fill="#c0c0c0"/>
<rect x="692" y="468" width="3" height="9" fill="#c0c0c0"/>
<rect x="700" y="468" width="3" height="7" fill="#c0c0c0"/>
<rect x="708" y="468" width="3" height="5" fill="#c0c0c0"/>
<rect x="716" y="468" width="3" height="3" fill="#c0c0c0"/>
<rect x="724" y="468" width="3" height="1" fill="#c0c0c0"/>
<rect x="732" y="464" width="3" height="4" fill="#c0c0c0"/>
<rect x="740" y="461" width="3" height="7" fill="#c0c0c0"/>
<rect x="748" y="460" width="3" height="8" fill="#c0c0c0"/>
<rect x="756" y="460" width="3" height="8" fill="#c0c0c0"/>
<rect x="764" y="462" width="3" height="6" fill="#c0c0c0"/>
<rect x="772" y="466" width="3" height="2" fill="#c0c0c0"/>
<rect x="780" y="468" width="3" height="3" fill="#c0c0c0"/>
<rect x="788" y="468" width="3" height="7" fill="#c0c0c0"/>
<rect x="796" y="468" width="3" height="11" fill="#c0c0c0"/>
<rect x="804" y="468" width="3" height="17" fill="#c0c0c0"/>
<rect x="812" y="468" width="3" height="20" fill="#c0c0c0"/>
<rect x="820" y="468" width="3" height="23" fill="#c0c0c0"/>
<rect x="828" y="468" width="3" height="25" fill="#c0c0c0"/>
<rect x="836" y="468" width="3" height="28" fill="#c0c0c0"/>
<rect x="844" y="468" width="3" height="28" fill="#c0c0c0"/>
<rect x="852" y="468" width="3" height="27" fill="#c0c0c0"/>
<rect x="860" y="468" width="3" height="24" fill="#c0c0c0"/>
<rect x="868" y="468" width="3" height="20" fill="#c0c0c0"/>
<rect x="876" y="468" width="3" height="18" fill="#c0c0c0"/>
<rect x="884" y="468" width="3" height="16" fill="#c0c0c0"/>
<rect x="892" y="468" width="3" height="14" fill="#c0c0c0"/>
<rect x="900" y="468" width="3" height="12" fill="#c0c0c0"/>
<rect x="908" y="468" width="3" height="10" fill="#c0c0c0"/>
<path d="M5 492h1v1h-1zM6 491h4v1h-4zM10 490h5v1h-5zM15 489h5v1h-5zM20 488h7v1h-7zM27 487h20v1h-20zM47 488h6v1h-6zM53 489h4v1h-4zM57 490h4v1h-4zM61 491h3v1h-3zM64 492h3v1h-3zM67 493h4v1h-4zM71 494h4v1h-4zM75 495h3v1h-3zM78 496h3v1h-3zM81 497h4v1h-4zM85 498h3v1h-3zM88 499h3v1h-3zM91 500h3v1h-3zM94 501h3v1h-3zM97 502h3v1h-3zM100 503h3v1h-3zM103 504h4v1h-4zM107 505h4v1h-4zM111 506h4v1h-4zM115 507h4v1h-4zM119 508h4v1h-4zM123 509h16v1h-16zM139 508h8v1h-8zM147 507h6v1h-6zM153 506h5v1h-5zM158 505h4v1h-4zM162 504h5v1h-5zM167 503h5v1h-5zM172 502h7v1h-7zM179 501h45v1h-45zM224 500h9v1h-9zM233 499h7v1h-7zM240 498h4v1h-4zM244 497h3v1h-3zM247 496h3v1h-3zM250 495h2v1h-2zM252 494h3v1h-3zM255 493h3v1h-3zM258 492h2v1h-2zM260 491h4v1h-4zM264 490h4v1h-4zM268 489h3v1h-3zM271 488h3v1h-3zM274 487h2v1h-2zM276 486h6v1h-6zM282 485h27v1h-27zM309 486h16v1h-16zM325 487h25v1h-25zM350 486h4v1h-4zM354 485h4v1h-4zM358 484h4v1h-4zM362 483h4v1h-4zM366 482h4v1h-4zM370 481h4v1h-4zM374 480h5v1h-5zM379 479h6v1h-6zM385 478h5v1h-5zM390 477h5v1h-5zM395 476h7v1h-7zM402 475h10v1h-10zM412 474h39v1h-39zM451 473h7v1h-7zM458 472h8v1h-8zM466 471h6v1h-6zM472 470h4v1h-4zM476 469h4v1h-4zM480 468h4v1h-4zM484 467h4v1h-4zM488 466h6v1h-6zM494 465h4v1h-4zM498 464h4v1h-4zM502 463h4v1h-4zM506 462h4v1h-4zM510 461h7v1h-7zM517 460h8v1h-8zM525 459h8v1h-8zM533 458h16v1h-16zM549 457h32v1h-32zM581 456h8v1h-8zM589 455h16v1h-16zM605 454h8v1h-8zM613 453h8v1h-8zM621 452h8v1h-8zM629 451h9v1h-9zM638 452h8v1h-8zM646 453h5v1h-5zM651 454h4v1h-4zM655 455h2v1h-2zM657 456h3v1h-3zM660 457h3v1h-3zM663 458h2v1h-2zM665 459h3v1h-3zM668 460h3v1h-3zM671 461h2v1h-2zM673 462h3v1h-3zM676 463h3v1h-3zM679 464h2v1h-2zM681 465h3v1h-3zM684 466h3v1h-3zM687 467h2v1h-2zM689 468h3v1h-3zM692 469h2v1h-2zM694 470h4v1h-4zM698 471h4v1h-4zM702 472h8v1h-8zM710 473h21v1h-21zM731 472h7v1h-7zM738 471h6v1h-6zM744 470h5v1h-5zM749 469h4v1h-4zM753 468h4v1h-4zM757 467h8v1h-8zM765 466h8v1h-8zM773 465h8v1h-8zM781 464h2v1h-2zM783 465h10v1h-10zM793 466h6v1h-6zM799 467h3v1h-3zM802 468h4v1h-4zM806 469h2v1h-2zM808 470h3v1h-3zM811 471h3v1h-3zM814 472h2v1h-2zM816 473h2v1h-2zM818 474h2v1h-2zM820 475h2v1h-2zM822 476h2v1h-2zM824 477h3v1h-3zM827 478h3v1h-3zM830 479h2v1h-2zM832 480h2v1h-2zM834 481h2v1h-2zM836 482h2v1h-2zM838 483h2v1h-2zM840 484h3v1h-3zM843 485h3v1h-3zM846 486h2v1h-2zM848 487h3v1h-3zM851 488h3v1h-3zM854 489h5v1h-5zM859 490h5v1h-5zM864 491h21v1h-21zM885 490h8v1h-8zM893 489h6v1h-6zM899 488h5v1h-5zM904 487h5v1h-5zM909 486h1v1h-1z" fill="#ff0000" />
</g>
<text x="9.2" y="455" font-size="10.2" fill="#000" stroke="#000" stroke-width="0.2" textLength="153.6" lengthAdjust="spacingAndGlyphs" >MACD(12,26,9) -0.001208 -0.002379</text>
<rect x="1156" y="444" width="1" height="1" fill="#000"/>
<rect x="1156" y="516" width="1" height="1" fill="#000"/>
<rect x="1156" y="521" width="1" height="1" fill="#000"/>
<rect x="1156" y="594" width="1" height="1" fill="#000"/>
<text x="1159.3" y="453" font-size="10.2" fill="#000" stroke="#000" stroke-width="0.2" textLength="37.3" lengthAdjust="spacingAndGlyphs" >0.003216</text>
<rect x="1156" y="468" width="1" height="1" fill="#000"/>
<text x="1159.3" y="472" font-size="10.2" fill="#000" stroke="#000" stroke-width="0.2" textLength="17.4" lengthAdjust="spacingAndGlyphs" >0.00</text>
<text x="1159.3" y="514" font-size="10.2" fill="#000" stroke="#000" stroke-width="0.2" textLength="40.6" lengthAdjust="spacingAndGlyphs" >-0.006485</text>
<g shape-rendering="crispEdges" clip-path="url(#cr)">
<line x1="6" y1="543.5" x2="1155" y2="543.5" stroke="#c0c0c0" stroke-width="1" stroke-dasharray="3,3"/>
<line x1="6" y1="573.5" x2="1155" y2="573.5" stroke="#c0c0c0" stroke-width="1" stroke-dasharray="3,3"/>
<path d="M5 563h1v1h-1zM6 564h2v1h-2zM8 565h2v1h-2zM10 566h2v1h-2zM12 567h3v1h-3zM15 566h3v1h-3zM18 565h3v1h-3zM21 564h3v1h-3zM24 565h6v1h-6zM30 566h3v1h-3zM33 567h3v1h-3zM36 568h5v1h-5zM41 567h6v1h-6zM47 568h1v1h-1zM48 569h2v1h-2zM50 570h1v1h-1zM51 571h2v1h-2zM53 572h4v1h-4zM57 573h9v1h-9zM66 572h4v1h-4zM70 571h2v1h-2zM72 570h3v1h-3zM75 569h2v1h-2zM77 568h2v1h-2zM79 569h4v1h-4zM83 570h4v1h-4zM87 571h4v1h-4zM91 572h4v1h-4zM95 573h4v1h-4zM99 574h3v1h-3zM102 573h1v1h-1zM103 572h1v1h-1zM104 571h1v1h-1zM105 570h1v1h-1zM106 569h1v1h-1zM107 568h1v1h-1zM108 567h1v1h-1zM109 566h4v1h-4zM113 567h4v1h-4zM117 568h1v1h-1zM118 567h8v1h-8zM126 566h3v1h-3zM129 565h4v1h-4zM133 564h3v1h-3zM136 563h4v1h-4zM140 562h3v1h-3zM143 561h1v1h-1zM144 560h2v1h-2zM146 559h1v1h-1zM147 558h2v1h-2zM149 557h1v1h-1zM150 558h2v1h-2zM152 559h2v1h-2zM154 560h2v1h-2zM156 561h1v1h-1zM157 562h2v1h-2zM159 563h2v1h-2zM161 564h2v1h-2zM163 565h1v1h-1zM164 566h3v1h-3zM167 567h5v1h-5zM172 568h3v1h-3zM175 569h1v1h-1zM176 570h2v1h-2zM178 571h1v1h-1zM179 572h2v1h-2zM181 573h1v1h-1zM182 572h3v1h-3zM185 571h3v1h-3zM188 570h2v1h-2zM190 569h3v1h-3zM193 568h3v1h-3zM196 567h4v1h-4zM200 566h6v1h-6zM206 565h1v1h-1zM207 564h1v1h-1zM208 563h1v1h-1zM209 562h1v1h-1zM210 561h1v1h-1zM211 560h1v1h-1zM212 559h2v1h-2zM214 558h5v1h-5zM219 557h4v1h-4zM223 556h3v1h-3zM226 555h2v1h-2zM228 554h2v1h-2zM230 555h2v1h-2zM232 556h2v1h-2zM234 557h2v1h-2zM236 558h3v1h-3zM239 559h5v1h-5zM244 560h3v1h-3zM247 559h5v1h-5zM252 558h2v1h-2zM254 559h1v1h-1zM255 560h2v1h-2zM257 561h2v1h-2zM259 562h1v1h-1zM260 563h2v1h-2zM262 564h15v1h-15zM277 563h1v1h-1zM278 564h2v1h-2zM280 565h3v1h-3zM283 566h3v1h-3zM286 567h6v1h-6zM292 568h1v1h-1zM293 567h1v2h-1zM294 566h1v1h-1zM295 565h1v1h-1zM296 564h1v1h-1zM297 562h1v2h-1zM298 561h1v1h-1zM299 560h1v1h-1zM300 558h1v2h-1zM301 557h1v1h-1zM302 558h1v1h-1zM303 559h2v1h-2zM305 560h2v1h-2zM307 561h1v1h-1zM308 562h3v1h-3zM311 563h5v1h-5zM316 564h2v1h-2zM318 563h2v1h-2zM320 562h3v1h-3zM323 561h2v1h-2zM325 560h7v1h-7zM332 559h3v1h-3zM335 560h9v1h-9zM344 559h3v1h-3zM347 558h4v1h-4zM351 557h7v1h-7zM358 556h2v1h-2zM360 555h3v1h-3zM363 554h2v1h-2zM365 553h1v1h-1zM366 554h2v1h-2zM368 555h1v1h-1zM369 556h2v1h-2zM371 557h2v1h-2zM373 558h2v1h-2zM375 559h2v1h-2zM377 560h1v1h-1zM378 561h2v1h-2zM380 562h3v1h-3zM383 561h2v1h-2zM385 560h2v1h-2zM387 559h2v1h-2zM389 558h1v1h-1zM390 559h4v1h-4zM394 560h4v1h-4zM398 561h2v1h-2zM400 562h3v1h-3zM403 563h2v1h-2zM405 564h9v1h-9zM414 563h2v1h-2zM416 562h3v1h-3zM419 561h2v1h-2zM421 560h3v1h-3zM424 559h2v1h-2zM426 558h3v1h-3zM429 557h2v1h-2zM431 556h2v1h-2zM433 555h2v1h-2zM435 554h2v1h-2zM437 553h10v1h-10zM447 554h7v1h-7zM454 555h2v1h-2zM456 556h2v1h-2zM458 557h2v1h-2zM460 558h3v1h-3zM463 557h2v1h-2zM465 556h2v1h-2zM467 555h1v1h-1zM468 554h3v1h-3zM471 555h4v1h-4zM475 556h9v1h-9zM484 555h3v1h-3zM487 556h8v1h-8zM495 555h2v1h-2zM497 554h2v1h-2zM499 553h2v1h-2zM501 552h10v1h-10zM511 553h9v1h-9zM520 552h2v1h-2zM522 551h3v1h-3zM525 550h1v2h-1zM526 552h1v1h-1zM527 553h1v2h-1zM528 555h1v1h-1zM529 556h1v2h-1zM530 558h1v1h-1zM531 559h1v2h-1zM532 561h1v1h-1zM533 562h2v1h-2zM535 561h2v1h-2zM537 560h2v1h-2zM539 559h2v1h-2zM541 558h4v1h-4zM545 557h4v1h-4zM549 556h2v1h-2zM551 557h8v1h-8zM559 556h1v1h-1zM560 555h2v1h-2zM562 554h2v1h-2zM564 553h1v1h-1zM565 552h1v1h-1zM566 553h4v1h-4zM570 554h5v1h-5zM575 553h1v1h-1zM576 552h2v1h-2zM578 551h2v1h-2zM580 550h1v1h-1zM581 549h9v1h-9zM590 550h2v1h-2zM592 551h2v1h-2zM594 552h2v1h-2zM596 553h3v1h-3zM599 554h15v1h-15zM614 555h2v1h-2zM616 556h3v1h-3zM619 557h2v1h-2zM621 558h2v1h-2zM623 559h2v1h-2zM625 560h3v1h-3zM628 561h3v1h-3zM631 562h8v1h-8zM639 563h15v1h-15zM654 564h18v1h-18zM672 563h2v1h-2zM674 562h3v1h-3zM677 561h1v1h-1zM678 562h3v1h-3zM681 563h2v1h-2zM683 564h4v1h-4zM687 563h1v1h-1zM688 562h2v1h-2zM690 561h1v1h-1zM691 560h2v1h-2zM693 559h3v1h-3zM696 558h4v1h-4zM700 557h3v1h-3zM703 556h3v1h-3zM706 555h3v1h-3zM709 554h1v1h-1zM710 555h2v1h-2zM712 556h3v1h-3zM715 557h8v1h-8zM723 556h3v1h-3zM726 555h2v1h-2zM728 554h2v1h-2zM730 553h2v1h-2zM732 552h1v1h-1zM733 551h1v1h-1zM734 552h8v1h-8zM742 553h8v1h-8zM750 554h2v1h-2zM752 555h2v1h-2zM754 556h2v1h-2zM756 557h2v1h-2zM758 558h2v1h-2zM760 559h3v1h-3zM763 560h3v1h-3zM766 561h2v1h-2zM768 562h3v1h-3zM771 563h3v1h-3zM774 564h5v1h-5zM779 565h4v1h-4zM783 566h4v1h-4zM787 567h5v1h-5zM792 568h6v1h-6zM798 569h2v1h-2zM800 570h2v1h-2zM802 571h2v1h-2zM804 572h3v1h-3zM807 571h2v1h-2zM809 570h2v1h-2zM811 569h2v1h-2zM813 568h1v1h-1zM814 569h8v1h-8zM822 570h8v1h-8zM830 571h9v1h-9zM839 570h2v1h-2zM841 569h1v1h-1zM842 568h2v1h-2zM844 567h1v1h-1zM845 566h4v1h-4zM849 565h4v1h-4zM853 564h3v1h-3zM856 563h3v1h-3zM859 562h2v1h-2zM861 561h3v1h-3zM864 560h3v1h-3zM867 559h2v1h-2zM869 558h1v1h-1zM870 559h8v1h-8zM878 560h21v1h-21zM899 559h5v1h-5zM904 558h5v1h-5zM909 557h1v1h-1z" fill="#1e90ff" />
</g>
<text x="9.2" y="532" font-size="10.2" fill="#000" stroke="#000" stroke-width="0.2" textLength="67.3" lengthAdjust="spacingAndGlyphs" >RSI(14) 51.8235</text>
<text x="1159.3" y="530" font-size="10.2" fill="#000" stroke="#000" stroke-width="0.2" textLength="14.8" lengthAdjust="spacingAndGlyphs" >100</text>
<text x="1159.3" y="547" font-size="10.2" fill="#000" stroke="#000" stroke-width="0.2" textLength="9.7" lengthAdjust="spacingAndGlyphs" >70</text>
<text x="1159.3" y="577" font-size="10.2" fill="#000" stroke="#000" stroke-width="0.2" textLength="9.7" lengthAdjust="spacingAndGlyphs" >30</text>
<text x="1159.3" y="593" font-size="10.2" fill="#000" stroke="#000" stroke-width="0.2" textLength="4.9" lengthAdjust="spacingAndGlyphs" >0</text>
<rect x="5" y="597" width="1" height="3" fill="#000"/>
<text x="4.5" y="609" font-size="10.2" fill="#000" stroke="#000" stroke-width="0.2" textLength="50.3" lengthAdjust="spacingAndGlyphs" >17 Oct 2018</text>
<rect x="69" y="597" width="1" height="3" fill="#000"/>
<text x="68.5" y="609" font-size="10.2" fill="#000" stroke="#000" stroke-width="0.2" textLength="50.6" lengthAdjust="spacingAndGlyphs" >26 Oct 2018</text>
<rect x="133" y="597" width="1" height="3" fill="#000"/>
<text x="132.5" y="609" font-size="10.2" fill="#000" stroke="#000" stroke-width="0.2" textLength="48.3" lengthAdjust="spacingAndGlyphs" >5 Nov 2018</text>
<rect x="197" y="597" width="1" height="3" fill="#000"/>
<text x="196.5" y="609" font-size="10.2" fill="#000" stroke="#000" stroke-width="0.2" textLength="52.8" lengthAdjust="spacingAndGlyphs" >14 Nov 2018</text>
<rect x="261" y="597" width="1" height="3" fill="#000"/>
<text x="260.5" y="609" font-size="10.2" fill="#000" stroke="#000" stroke-width="0.2" textLength="52.8" lengthAdjust="spacingAndGlyphs" >23 Nov 2018</text>
<rect x="325" y="597" width="1" height="3" fill="#000"/>
<text x="324.5" y="609" font-size="10.2" fill="#000" stroke="#000" stroke-width="0.2" textLength="46.7" lengthAdjust="spacingAndGlyphs" >3 Dec 2018</text>
<rect x="389" y="597" width="1" height="3" fill="#000"/>
<text x="388.5" y="609" font-size="10.2" fill="#000" stroke="#000" stroke-width="0.2" textLength="51.2" lengthAdjust="spacingAndGlyphs" >12 Dec 2018</text>
<rect x="453" y="597" width="1" height="3" fill="#000"/>
<text x="452.5" y="609" font-size="10.2" fill="#000" stroke="#000" stroke-width="0.2" textLength="51.2" lengthAdjust="spacingAndGlyphs" >21 Dec 2018</text>
<rect x="517" y="597" width="1" height="3" fill="#000"/>
<text x="516.5" y="609" font-size="10.2" fill="#000" stroke="#000" stroke-width="0.2" textLength="51.2" lengthAdjust="spacingAndGlyphs" >31 Dec 2018</text>
<rect x="581" y="597" width="1" height="3" fill="#000"/>
<text x="580.5" y="609" font-size="10.2" fill="#000" stroke="#000" stroke-width="0.2" textLength="43.8" lengthAdjust="spacingAndGlyphs" >9 Jan 2019</text>
<rect x="645" y="597" width="1" height="3" fill="#000"/>
<text x="644.5" y="609" font-size="10.2" fill="#000" stroke="#000" stroke-width="0.2" textLength="49.9" lengthAdjust="spacingAndGlyphs" >18 Jan 2019</text>
<rect x="709" y="597" width="1" height="3" fill="#000"/>
<text x="708.5" y="609" font-size="10.2" fill="#000" stroke="#000" stroke-width="0.2" textLength="49.7" lengthAdjust="spacingAndGlyphs" >28 Jan 2019</text>
<rect x="773" y="597" width="1" height="3" fill="#000"/>
<text x="772.5" y="609" font-size="10.2" fill="#000" stroke="#000" stroke-width="0.2" textLength="46.2" lengthAdjust="spacingAndGlyphs" >6 Feb 2019</text>
<rect x="837" y="597" width="1" height="3" fill="#000"/>
<text x="836.5" y="609" font-size="10.2" fill="#000" stroke="#000" stroke-width="0.2" textLength="51.0" lengthAdjust="spacingAndGlyphs" >15 Feb 2019</text>
<rect x="901" y="597" width="1" height="3" fill="#000"/>
<text x="900.5" y="609" font-size="10.2" fill="#000" stroke="#000" stroke-width="0.2" textLength="50.8" lengthAdjust="spacingAndGlyphs" >25 Feb 2019</text>
<rect x="0" y="619" width="1199" height="1" fill="#000"/>
<rect x="0" y="620" width="1199" height="23" fill="#f0f0f0"/>
<rect x="0" y="639" width="1199" height="1" fill="#fafafa"/>
<rect x="0" y="619" width="1" height="20" fill="#a0a0a0"/>
<rect x="1" y="619" width="1" height="20" fill="#696969"/>
<rect x="6" y="618" width="104" height="20" fill="#fff"/>
<rect x="6" y="619" width="1" height="19" fill="#000"/>
<rect x="6" y="637" width="104" height="1" fill="#000"/>
<rect x="109" y="619" width="1" height="19" fill="#000"/>
<rect x="110" y="620" width="1" height="19" fill="#d4d4d4"/>
<rect x="7" y="638" width="104" height="1" fill="#d4d4d4"/>
<text x="19" y="633.3" font-size="11.4" fill="#000" stroke="#000" stroke-width="0.2" textLength="78.7" lengthAdjust="spacingAndGlyphs" >EURUSD,Daily</text>
<text x="120.7" y="633.3" font-size="11.4" fill="#646464" stroke="#646464" stroke-width="0.2" textLength="82.0" lengthAdjust="spacingAndGlyphs" >AUDUSD,Daily</text>
<text x="224" y="633.3" font-size="11.4" fill="#646464" stroke="#646464" stroke-width="0.2" textLength="78.7" lengthAdjust="spacingAndGlyphs" >USDCHF,Daily</text>
<text x="325" y="633.3" font-size="11.4" fill="#646464" stroke="#646464" stroke-width="0.2" textLength="80.7" lengthAdjust="spacingAndGlyphs" >USDCAD,Daily</text>
<text x="429.3" y="633.3" font-size="11.4" fill="#646464" stroke="#646464" stroke-width="0.2" textLength="96.4" lengthAdjust="spacingAndGlyphs" >USDCNH,Weekly</text>
<text x="549.3" y="633.3" font-size="11.4" fill="#646464" stroke="#646464" stroke-width="0.2" textLength="88.0" lengthAdjust="spacingAndGlyphs" >USDJPY,Weekly</text>
<text x="661" y="633.3" font-size="11.4" fill="#646464" stroke="#646464" stroke-width="0.2" textLength="68.3" lengthAdjust="spacingAndGlyphs" >XAUUSD,H4</text>
<text x="754" y="633.3" font-size="11.4" fill="#646464" stroke="#646464" stroke-width="0.2" textLength="79.3" lengthAdjust="spacingAndGlyphs" >GBPUSD,Daily</text>
<text x="858.3" y="633.3" font-size="11.4" fill="#646464" stroke="#646464" stroke-width="0.2" textLength="63.0" lengthAdjust="spacingAndGlyphs" >SP500,M15</text>
<text x="945.7" y="633.3" font-size="11.4" fill="#646464" stroke="#646464" stroke-width="0.2" textLength="67.6" lengthAdjust="spacingAndGlyphs" >GBPUSD,H1</text>
<text x="1036.3" y="633.3" font-size="11.4" fill="#646464" stroke="#646464" stroke-width="0.2" textLength="46.0" lengthAdjust="spacingAndGlyphs" >DJ30,H4</text>
<rect x="214" y="622" width="1" height="14" fill="#696969"/>
<rect x="314" y="622" width="1" height="14" fill="#696969"/>
<rect x="418" y="622" width="1" height="14" fill="#696969"/>
<rect x="538" y="622" width="1" height="14" fill="#696969"/>
<rect x="650" y="622" width="1" height="14" fill="#696969"/>
<rect x="742" y="622" width="1" height="14" fill="#696969"/>
<rect x="846" y="622" width="1" height="14" fill="#696969"/>
<rect x="934" y="622" width="1" height="14" fill="#696969"/>
<rect x="1026" y="622" width="1" height="14" fill="#696969"/>
<rect x="1094" y="622" width="1" height="14" fill="#696969"/>
<clipPath id="ct"><rect x="1100" y="620" width="65" height="23"/></clipPath>
<text x="1104" y="633.3" font-size="11.4" fill="#646464" stroke="#646464" stroke-width="0.2" textLength="70" lengthAdjust="spacingAndGlyphs" clip-path="url(#ct)">TECH100,H4</text>
<path d="M1174.5 624.5v7l-3.7-3.5z" fill="#a0a0a0"/>
<path d="M1189.7 624.5v7l3.7-3.5z" fill="#000"/>
</svg>
</body></html>
